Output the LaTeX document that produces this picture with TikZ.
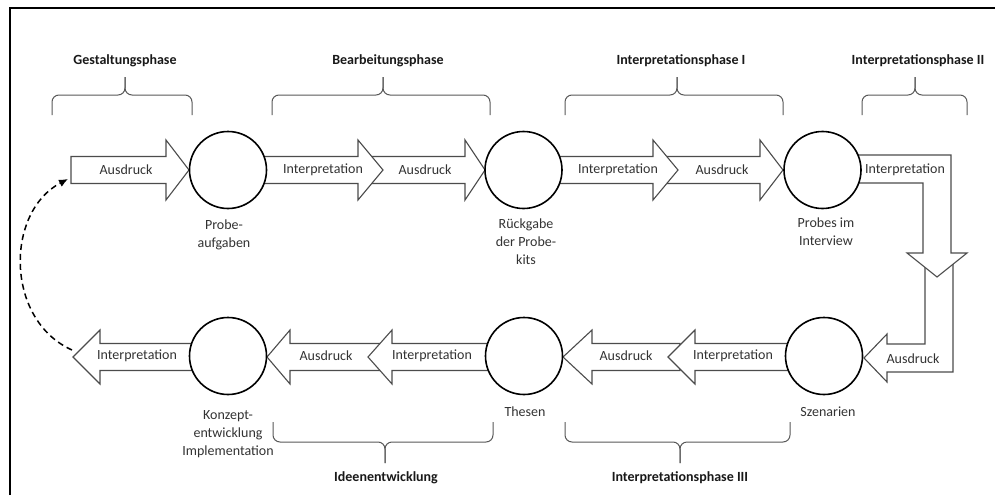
\documentclass[tikz,border=0pt]{standalone}
\usepackage{fontspec}
\setmainfont{Carlito}
\usetikzlibrary{arrows.meta}
% right/left block arrow: x0, xhead, xtip, ycentre, head half-height
\newcommand\blockarr[5]{%
  \draw[blockarrow] (#1,#4-13.5) -- (#2,#4-13.5) -- (#2,#4-#5) -- (#3,#4)
    -- (#2,#4+#5) -- (#2,#4+13.5) -- (#1,#4+13.5) -- cycle;}
\newcommand\topbrace[3]{%
  \draw[bracestyle] (#1,115) -- (#1,95) -- (#3,95) -- (#3,77);
  \draw[bracestyle] (#2,115) -- (#2,95) -- (#3,95) -- (#3,77);}
\newcommand\botbrace[3]{%
  \draw[bracestyle] (#1,422) -- (#1,442) -- (#3,442) -- (#3,463);
  \draw[bracestyle] (#2,422) -- (#2,442) -- (#3,442) -- (#3,463);}
\begin{document}
\begin{tikzpicture}[x=1pt,y=-1pt,
  blockarrow/.style={draw=black!70,line width=1.1pt,fill=white,line join=miter},
  circ/.style={circle,draw=black,line width=1.6pt,fill=white,minimum size=77pt,inner sep=0pt},
  lbl/.style={font=\fontsize{14}{17}\selectfont,text=black!80,inner sep=0pt},
  sublbl/.style={font=\fontsize{14}{18}\selectfont,text=black!80,align=center,inner sep=0pt},
  phase/.style={font=\fontsize{14}{17}\selectfont\bfseries,text=black!90,inner sep=0pt},
  bracestyle/.style={draw=black!65,line width=1pt,rounded corners=7pt},
  frame/.style={draw=black,line width=2pt},
  loopback/.style={draw=black,line width=1.5pt,dash pattern=on 6pt off 4pt,-{Latex[length=9pt,width=8pt]}}]
\useasboundingbox (0,0) rectangle (995,495);
\fill[white] (0,0) rectangle (995,495);
\draw[frame] (10,495) -- (10,8) -- (995,8);

% ---------- top row arrows ----------
\blockarr{71}{166}{189}{170}{30}
\blockarr{372}{465}{485}{170}{30}
\blockarr{228}{358}{383}{170}{30}
\blockarr{660}{760}{783}{170}{30}
\blockarr{523}{653}{678}{170}{30}

% ---------- right side bent arrows ----------
\draw[blockarrow] (925,258) -- (925,344) -- (887,344) -- (887,334) -- (864,358)
  -- (887,382) -- (887,372) -- (953,372) -- (953,258) -- cycle;
\draw[blockarrow] (822,155) -- (951,155) -- (951,253) -- (967,253) -- (937,277)
  -- (907,253) -- (923,253) -- (923,183) -- (822,183) -- cycle;

% ---------- bottom row arrows ----------
\blockarr{680}{592}{563}{357}{27}
\blockarr{824}{695}{668}{357}{27}
\blockarr{380}{290}{267}{357}{27}
\blockarr{524}{392}{368}{357}{27}
\blockarr{228}{100}{73}{357}{27}

% ---------- circles ----------
\node[circ] (c1) at (228,170) {};
\node[circ] (c2) at (523.5,170) {};
\node[circ] (c3) at (822.5,170) {};
\node[circ] (c4) at (824,356) {};
\node[circ] (c5) at (524,356) {};
\node[circ] (c6) at (228,356) {};

% ---------- arrow labels ----------
\node[lbl] (t1) at (126,170) {Ausdruck};
\node[lbl] (t2) at (323,170) {Interpretation};
\node[lbl] (t3) at (425,170) {Ausdruck};
\node[lbl] (t4) at (618,170) {Interpretation};
\node[lbl] (t5) at (722,170) {Ausdruck};
\node[lbl] (t6) at (905,170) {Interpretation};
\node[lbl] (t7) at (913,359) {Ausdruck};
\node[lbl] (b1) at (733,356) {Interpretation};
\node[lbl] (b2) at (626,356) {Ausdruck};
\node[lbl] (b3) at (432,356) {Interpretation};
\node[lbl] (b4) at (326,356) {Ausdruck};
\node[lbl] (b5) at (137,356) {Interpretation};

% ---------- circle captions ----------
\node[sublbl] (s1) at (224,235) {Probe-\\aufgaben};
\node[sublbl] (s2) at (526,242) {Rückgabe\\der Probe-\\kits};
\node[sublbl] (s3) at (826,232) {Probes im\\Interview};
\node[sublbl] (s4) at (828,412) {Szenarien};
\node[sublbl] (s5) at (525,412) {Thesen};
\node[sublbl] (s6) at (228,434) {Konzept-\\entwicklung\\Implementation};

% ---------- braces ----------
\topbrace{52}{192}{125}
\topbrace{272}{490}{383}
\topbrace{565}{783}{677}
\topbrace{862}{967}{915}
\botbrace{273}{493}{385}
\botbrace{565}{790}{680}

% ---------- phase labels ----------
\node[phase] (p1) at (125,61) {Gestaltungsphase};
\node[phase] (p2) at (388,61) {Bearbeitungsphase};
\node[phase] (p3) at (681,61) {Interpretationsphase I};
\node[phase] (p4) at (918,61) {Interpretationsphase II};
\node[phase] (p5) at (386,478) {Ideenentwicklung};
\node[phase] (p6) at (680,478) {Interpretationsphase III};

% ---------- dashed loop back ----------
\coordinate (ds) at (72,350);
\coordinate (de) at (68,179);
\draw[loopback] (ds) .. controls (5,320) and (5,212) .. (de);
\end{tikzpicture}
\end{document}
